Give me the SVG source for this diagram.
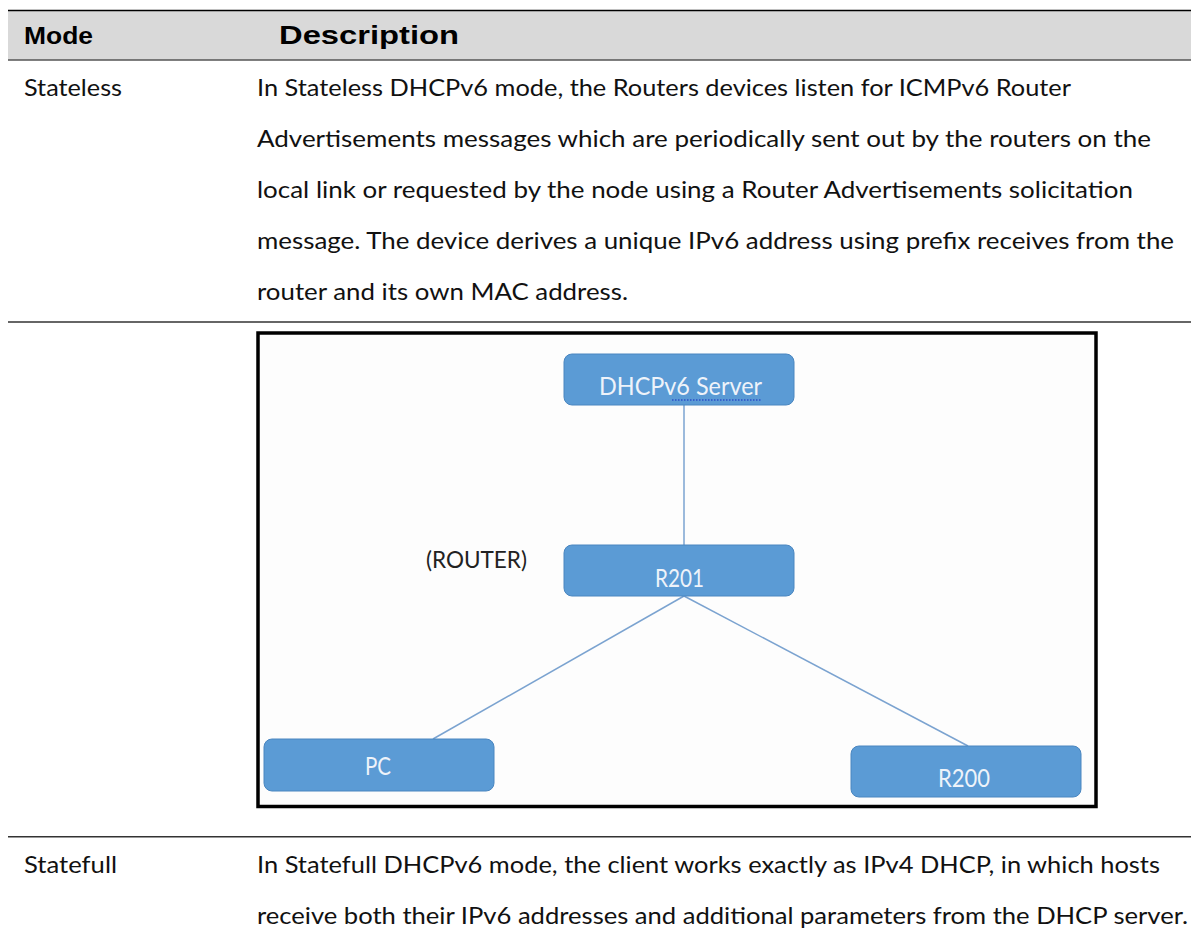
<svg xmlns="http://www.w3.org/2000/svg" width="1191" height="934" viewBox="0 0 1191 934">
<style>
.hdr{font-family:"Liberation Sans",Arial,sans-serif;font-weight:bold;font-size:24px;fill:#000}
.body{font-family:Lato,"Open Sans","Liberation Sans",sans-serif;font-size:23px;fill:#111}
.node rect{fill:#5b9bd5;stroke:#4a86c0;stroke-width:1}
.node text{font-family:Lato,"Open Sans","Liberation Sans",sans-serif;font-size:25px;fill:#eef3fa}
.rule{stroke:#333;stroke-width:1.4}
.conn line{stroke:#7ba3d0;stroke-width:1.5}
</style>
<rect width="1191" height="934" fill="#fff"/>
<g id="table">
<rect x="8" y="10" width="1183" height="50" fill="#d9d9d9"/>
<line x1="8" y1="10.5" x2="1191" y2="10.5" stroke="#000" stroke-width="1.5"/>
<line x1="8" y1="60" x2="1191" y2="60" stroke="#555" stroke-width="1.6"/>
<text class="hdr" x="24" y="44" textLength="69" lengthAdjust="spacingAndGlyphs">Mode</text>
<text class="hdr" x="279" y="44" style="font-size:25px" textLength="180" lengthAdjust="spacingAndGlyphs">Description</text>
<text class="body" x="24" y="96" textLength="98" lengthAdjust="spacingAndGlyphs">Stateless</text>
<text class="body" x="257" y="96" textLength="814" lengthAdjust="spacingAndGlyphs">In Stateless DHCPv6 mode, the Routers devices listen for ICMPv6 Router</text>
<text class="body" x="257" y="147" textLength="894" lengthAdjust="spacingAndGlyphs">Advertisements messages which are periodically sent out by the routers on the</text>
<text class="body" x="257" y="198" textLength="876" lengthAdjust="spacingAndGlyphs">local link or requested by the node using a Router Advertisements solicitation</text>
<text class="body" x="257" y="249" textLength="917" lengthAdjust="spacingAndGlyphs">message. The device derives a unique IPv6 address using prefix receives from the</text>
<text class="body" x="257" y="300" textLength="371" lengthAdjust="spacingAndGlyphs">router and its own MAC address.</text>
<line class="rule" x1="8" y1="322" x2="1191" y2="322"/>
<line class="rule" x1="8" y1="836.7" x2="1191" y2="836.7"/>
<text class="body" x="24" y="873" textLength="93" lengthAdjust="spacingAndGlyphs">Statefull</text>
<text class="body" x="257" y="873" textLength="903" lengthAdjust="spacingAndGlyphs">In Statefull DHCPv6 mode, the client works exactly as IPv4 DHCP, in which hosts</text>
<text class="body" x="257" y="924" textLength="931" lengthAdjust="spacingAndGlyphs">receive both their IPv6 addresses and additional parameters from the DHCP server.</text>
</g>
<rect id="frame" x="258" y="333" width="838" height="473.5" fill="#fdfdfd" stroke="#000" stroke-width="3.5"/>
<g id="connectors" class="conn">
<line x1="684" y1="405" x2="684" y2="545"/>
<line x1="684" y1="596" x2="433" y2="739"/>
<line x1="684" y1="596" x2="968" y2="746"/>
</g>
<g id="node-server" class="node">
<rect x="564" y="354" width="230" height="51" rx="8"/>
<text x="599" y="395" textLength="163" lengthAdjust="spacingAndGlyphs">DHCPv6 Server</text>
<line x1="672" y1="400" x2="762" y2="400" stroke="#2b4fc7" stroke-width="1.3" stroke-dasharray="1.5 1.5"/>
</g>
<g id="label-router">
<text x="426" y="568" textLength="101" lengthAdjust="spacingAndGlyphs" style="font-family:Lato,'Open Sans','Liberation Sans',sans-serif;font-size:23px;fill:#222">(ROUTER)</text>
</g>
<g id="node-r201" class="node">
<rect x="564" y="545" width="230" height="51" rx="8"/>
<text x="655" y="587" textLength="49" lengthAdjust="spacingAndGlyphs">R201</text>
</g>
<g id="node-pc" class="node">
<rect x="264" y="739" width="230" height="52" rx="8"/>
<text x="365" y="775" textLength="26" lengthAdjust="spacingAndGlyphs">PC</text>
</g>
<g id="node-r200" class="node">
<rect x="851" y="746" width="230" height="51" rx="8"/>
<text x="938" y="787" textLength="52" lengthAdjust="spacingAndGlyphs">R200</text>
</g>
</svg>
